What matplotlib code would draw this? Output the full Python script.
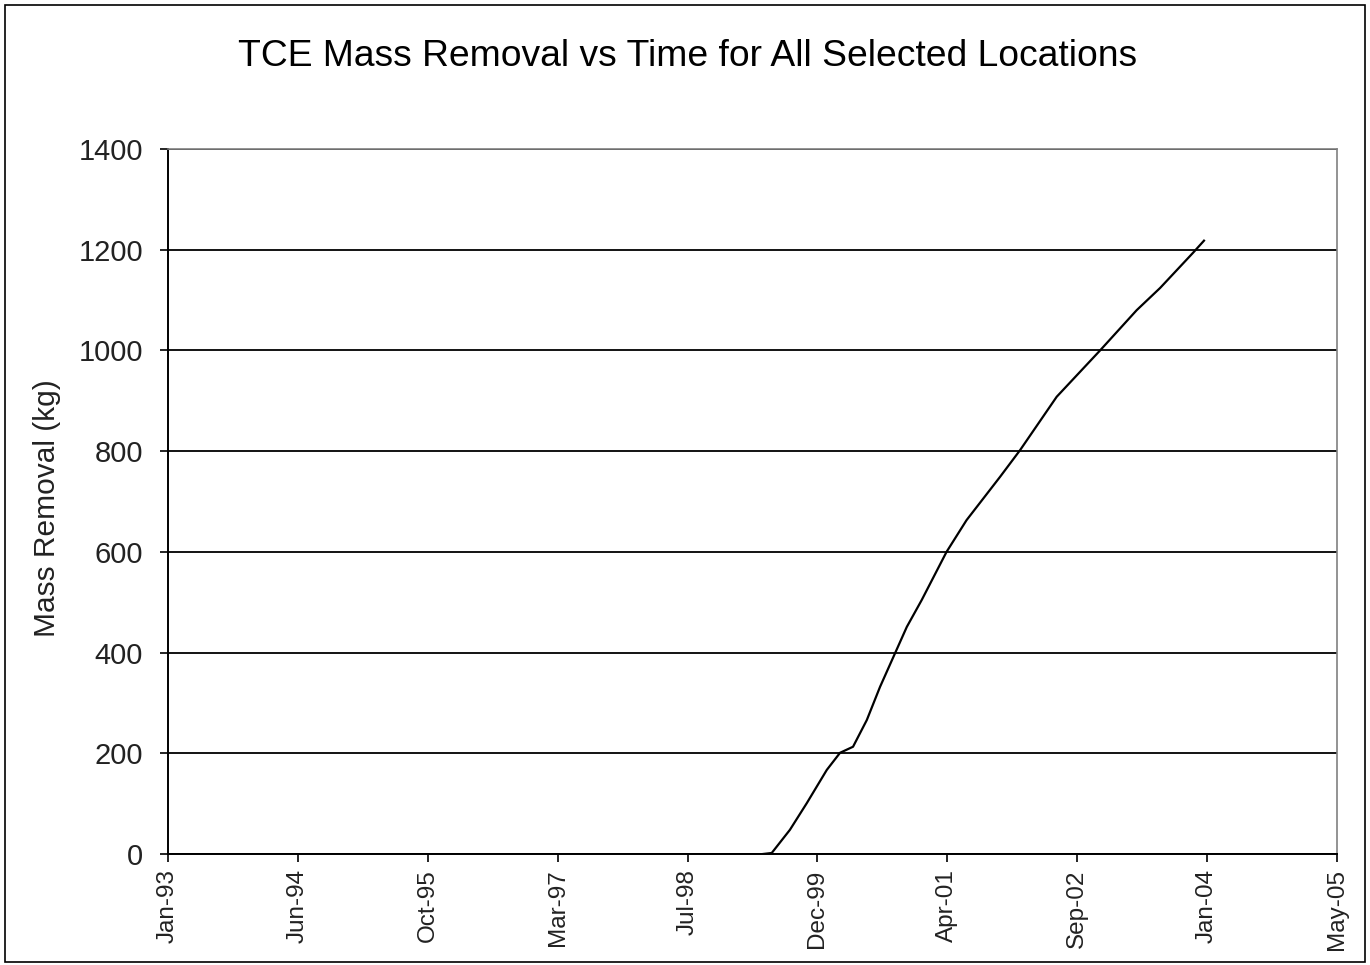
import matplotlib
matplotlib.use("Agg")
import matplotlib.pyplot as plt
import matplotlib.dates as mdates
from matplotlib.patches import Rectangle
import pandas as pd

plt.rcParams["font.family"] = ["Liberation Sans", "DejaVu Sans"]

# cumulative TCE mass removed (kg)
dates = ["1999-05-10", "1999-06-13", "1999-08-22", "1999-10-26", "2000-01-11",
         "2000-03-02", "2000-04-21", "2000-06-13", "2000-08-03", "2000-09-30",
         "2000-11-14", "2001-01-10", "2001-04-16", "2001-07-02", "2001-11-08",
         "2002-01-24", "2002-06-14", "2002-11-28", "2003-04-18", "2003-07-17",
         "2003-11-21", "2004-01-02"]
mass_kg = [0, 2, 48, 101, 167, 201, 213, 266, 332, 399, 451, 504, 600, 663,
           749, 802, 908, 1000, 1080, 1124, 1194, 1218]

# Excel-style date axis: every 500 days from 31 Jan 1993
tick_start = "1993-01-31"
n_ticks = 10
tick_step = "500D"
y_ticks = [0, 200, 400, 600, 800, 1000, 1200, 1400]

x = pd.to_datetime(dates)
xticks = pd.date_range(tick_start, periods=n_ticks, freq=tick_step)

fig = plt.figure(figsize=(13.7, 9.65), dpi=100)
ax = fig.add_axes([168 / 1370, 1 - 854 / 965, (1337 - 168) / 1370, (854 - 149) / 965])

ax.plot(x, mass_kg, color="black", lw=1.6)

ax.set_xlim(xticks[0], xticks[-1])
ax.set_ylim(0, 1400)
ax.set_xticks(xticks)
ax.xaxis.set_major_formatter(mdates.DateFormatter("%b-%y"))
ax.set_yticks(y_ticks)
ax.tick_params(axis="x", labelsize=17.5, rotation=90, length=6, width=1.2, pad=5)
ax.tick_params(axis="y", labelsize=21, length=6, width=1.2, pad=12)
for lab in ax.get_xticklabels():
    lab.set_color("#222222")
for lab in ax.get_yticklabels():
    lab.set_color("#222222")

ax.grid(axis="y", color="black", lw=1.3)
ax.set_axisbelow(True)
for side in ("left", "bottom"):
    ax.spines[side].set_color("black")
    ax.spines[side].set_linewidth(1.4)
for side in ("top", "right"):
    ax.spines[side].set_color("#808080")
    ax.spines[side].set_linewidth(1.2)

fig.text(47 / 1370, 1 - 508 / 965, "Mass Removal (kg)", rotation=90,
         ha="center", va="center", fontsize=21.5, color="#222222")
fig.text(688 / 1370, 1 - 57 / 965, "TCE Mass Removal vs Time for All Selected Locations",
         ha="center", va="center", fontsize=26.8)

fig.patches.append(Rectangle((5 / 1370, 3 / 965), 1360 / 1370, 957 / 965,
                             transform=fig.transFigure, fill=False,
                             edgecolor="black", lw=1.2))

fig.savefig("out.png", dpi=100)
